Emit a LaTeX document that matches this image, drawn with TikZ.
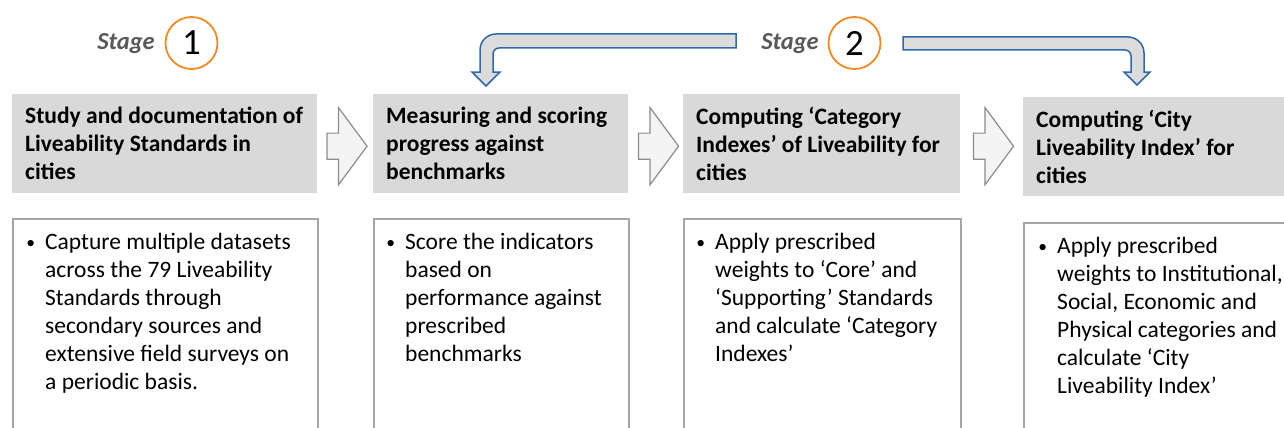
\documentclass[tikz,border=0pt]{standalone}
\usepackage{fontspec}
\setmainfont{Carlito}
\usetikzlibrary{shapes.arrows, calc}
\definecolor{headgray}{HTML}{D9D9D9}
\definecolor{boxline}{HTML}{A6A6A6}
\definecolor{flowline}{HTML}{8C8C8C}
\definecolor{flowfill}{HTML}{F4F4F4}
\definecolor{loopblue}{HTML}{2F69AC}
\definecolor{loopfill}{HTML}{DCDCDC}
\definecolor{stagegray}{HTML}{595959}
\definecolor{numorange}{HTML}{F08A24}
\newcommand{\pt}{\llap{\raisebox{1.5pt}{\scalebox{0.75}{\textbullet}}\hspace{10pt}}}
\tikzstyle{head} = [rectangle, fill=headgray, anchor=north west, align=flush left, inner xsep=13pt, minimum height=99pt, font=\fontsize{23.5}{28}\selectfont\bfseries]
\tikzstyle{body} = [rectangle, draw=boxline, line width=1.5pt, fill=white, anchor=north west, minimum height=240pt]
\tikzstyle{note} = [anchor=north west, align=flush left, inner sep=0pt, font=\fontsize{23.5}{28}\selectfont]
\tikzstyle{flow} = [single arrow, draw=flowline, fill=flowfill, line width=1.2pt, minimum height=40pt, inner xsep=0pt, inner ysep=12.5pt, single arrow head extend=25.5pt, single arrow tip angle=107]
\tikzstyle{stagearrow} = [draw=loopblue, fill=loopfill, line width=1.5pt]
\tikzstyle{stage} = [font=\fontsize{24.5}{28}\selectfont\bfseries\itshape, text=stagegray]
\tikzstyle{num} = [circle, draw=numorange, line width=1.8pt, minimum size=52pt, inner sep=0pt, font=\fontsize{37}{40}\selectfont]
\begin{document}
\begin{tikzpicture}[x=1pt, y=-1pt]
\useasboundingbox (0,0) rectangle (1284,428);
% stage labels
\node (st1) [stage] at (126,44) {Stage};
\node (n1) [num] at (191.5,43) {1};
\node (st2) [stage] at (790,44) {Stage};
\node (n2) [num] at (854.5,43) {2};
% headings
\node (h1) [head, text width=279pt] at (12,94) {Study and documentation of\\Liveability Standards in\\cities};
\node (h2) [head, text width=229pt] at (373,94) {Measuring and scoring\\progress against\\benchmarks};
\node (h3) [head, text width=251pt] at (683,94) {Computing ‘Category\\Indexes’ of Liveability for\\cities};
\node (h4) [head, text width=249pt] at (1023,97) {Computing ‘City\\Liveability Index’ for\\cities};
% boxes below
\node (b1) [body, minimum width=305pt] at (12,218) {};
\node (b2) [body, minimum width=255pt] at (373,218) {};
\node (b3) [body, minimum width=277pt] at (683,218) {};
\node (b4) [body, minimum width=275pt] at (1023,222) {};
\node (t1) [note] at ([xshift=33pt,yshift=-15pt]b1.north west) {\pt Capture multiple datasets\\across the 79 Liveability\\Standards through\\secondary sources and\\extensive field surveys on\\a periodic basis.};
\node (t2) [note] at ([xshift=32pt,yshift=-15pt]b2.north west) {\pt Score the indicators\\based on\\performance against\\prescribed\\benchmarks};
\node (t3) [note] at ([xshift=32pt,yshift=-15pt]b3.north west) {\pt Apply prescribed\\weights to ‘Core’ and\\‘Supporting’ Standards\\and calculate ‘Category\\Indexes’};
\node (t4) [note] at ([xshift=34pt,yshift=-15pt]b4.north west) {\pt Apply prescribed\\weights to Institutional,\\Social, Economic and\\Physical categories and\\calculate ‘City\\Liveability Index’};
% arrows between headings
\node (f1) [flow] at ($(h1.east)!0.5!(h2.west)+(-3,2.5)$) {};
\node (f2) [flow] at ($(h2.east)!0.5!(h3.west)+(-2,2.5)$) {};
\node (f3) [flow] at ($(h3.east)!0.5!(h4.west)+(-3,1)$) {};
% stage 2 arrows
\coordinate (tipL) at ([xshift=113pt,yshift=8pt]h2.north west);
\coordinate (tipR) at ([xshift=114pt,yshift=12pt]h4.north west);
\draw [stagearrow] (tipL) -- ++(14,-14) -- ++(-7,0) [rounded corners=6pt] -- ++(0,-24) [sharp corners] -- ++(243,0) -- ++(0,-14) [rounded corners=16pt] -- ++(-256,0) [sharp corners] -- ++(0,38) -- ++(-8,0) -- cycle;
\draw [stagearrow] (tipR) -- ++(13,-13) -- ++(-6,0) [rounded corners=16pt] -- ++(0,-35) [sharp corners] -- ++(-241,0) -- ++(0,13) [rounded corners=6pt] -- ++(228,0) [sharp corners] -- ++(0,22) -- ++(-7,0) -- cycle;
\end{tikzpicture}
\end{document}
